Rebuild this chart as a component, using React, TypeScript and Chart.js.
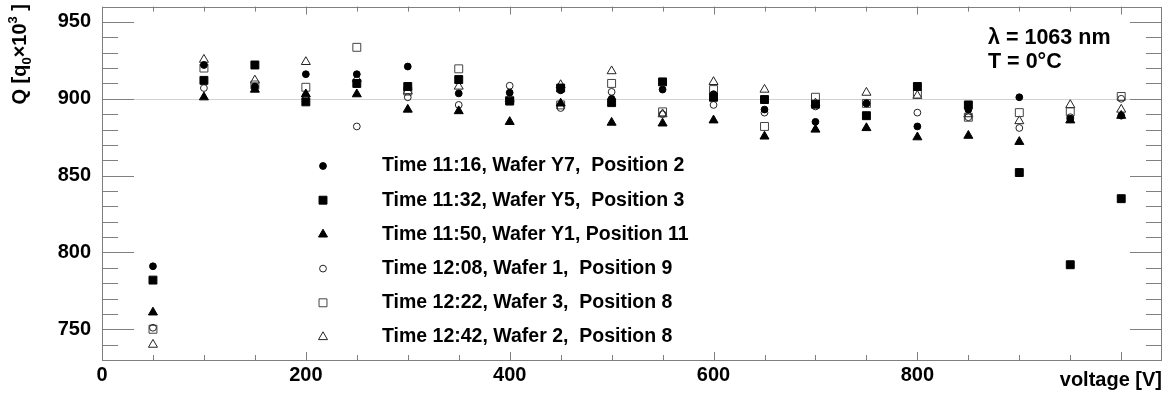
import { useEffect, useRef } from 'react';
import { Chart, registerables } from 'chart.js';

Chart.register(...registerables);

// Bias voltage steps [V]
const voltages = [50, 100, 150, 200, 250, 300, 350, 400, 450, 500, 550, 600, 650, 700, 750, 800, 850, 900, 950, 1000];

// Collected charge Q [q0 x 10^3] per measurement run
const q1116 = [791, 922, 908, 916, 916, 921, 903.5, 904, 905.5, 900, 906, 903, 893, 885, 897, 882, 893, 901, 887, 889];
const q1132 = [782, 912, 922, 898, 910, 908, 912.5, 898.5, 907, 897.5, 911, 901, 899.5, 896.5, 889, 908, 896, 852, 792, 835];
const q1150 = [761, 901, 906, 903, 903, 893, 892, 885, 897, 884.5, 884, 886, 875.5, 880, 881, 875, 876, 872, 886, 889];
const q1208 = [751, 907, 907, 902, 882, 901, 896, 908.5, 894, 904.5, 890, 896, 891, 895, 897, 891, 888, 881, 888, 900];
const q1222 = [750, 920, 909, 907.5, 933.5, 905, 919.5, 899, 896, 910, 891.5, 906, 882, 901, 897, 903, 888, 891, 891.5, 901.5];
const q1242 = [740, 925.5, 912, 924, 913, 905, 908, 900, 909, 918, 890, 911, 906, 897, 904, 902, 890, 885.5, 896, 893];

const seriesLabels = [
  'Time 11:16, Wafer Y7,  Position 2',
  'Time 11:32, Wafer Y5,  Position 3',
  'Time 11:50, Wafer Y1, Position 11',
  'Time 12:08, Wafer 1,  Position 9',
  'Time 12:22, Wafer 3,  Position 8',
  'Time 12:42, Wafer 2,  Position 8',
];
const seriesValues = [q1116, q1132, q1150, q1208, q1222, q1242];

const xTickValues = [0, 200, 400, 600, 800, 1000];
const yTickValues = [750, 800, 850, 900, 950];
const xRange = [0, 1040];
const yRange = [730, 960];
const referenceLevel = 900;

const infoLines = ['λ = 1063 nm', 'T = 0°C'];

type Marker = { style: 'circle' | 'rect' | 'triangle'; radius: number; filled: boolean; color: string };
const markers: Marker[] = [
  { style: 'circle', radius: 3.4, filled: true, color: '#000' },
  { style: 'rect', radius: 5.6, filled: true, color: '#000' },
  { style: 'triangle', radius: 5.2, filled: true, color: '#000' },
  { style: 'circle', radius: 3.4, filled: false, color: '#222' },
  { style: 'rect', radius: 5.6, filled: false, color: '#444' },
  { style: 'triangle', radius: 5.2, filled: false, color: '#222' },
];

const FONT = '"Liberation Sans", Arial, Helvetica, sans-serif';
const FRAME = '#7f7f7f';

function drawMarker(ctx: CanvasRenderingContext2D, m: Marker, x: number, y: number) {
  ctx.save();
  ctx.beginPath();
  const r = m.radius;
  if (m.style === 'circle') {
    ctx.arc(x, y, r, 0, Math.PI * 2);
  } else if (m.style === 'rect') {
    const h = r * Math.SQRT1_2;
    ctx.rect(x - h, y - h, 2 * h, 2 * h);
  } else {
    let a = 0;
    ctx.moveTo(x + Math.sin(a) * r, y - Math.cos(a) * r);
    a += (2 * Math.PI) / 3;
    ctx.lineTo(x + Math.sin(a) * r, y - Math.cos(a) * r);
    a += (2 * Math.PI) / 3;
    ctx.lineTo(x + Math.sin(a) * r, y - Math.cos(a) * r);
    ctx.closePath();
  }
  if (m.filled) {
    ctx.fillStyle = m.color;
    ctx.fill();
  }
  ctx.lineWidth = 1;
  ctx.strokeStyle = m.color;
  ctx.stroke();
  ctx.restore();
}

// Scales keep no extra label padding so the frame sits exactly where the layout puts it
const noScalePadding = (s: any) => {
  s.paddingTop = 0;
  s.paddingBottom = 0;
  s.paddingLeft = 0;
  s.paddingRight = 0;
};

// Frame, inward ticks on all sides, reference line, titles, legend and run conditions
const decorations = {
  id: 'decorations',
  beforeDatasetsDraw(chart: any) {
    const { ctx, chartArea } = chart;
    const xs = chart.scales.x;
    const ys = chart.scales.y;
    const { left, right, top, bottom } = chartArea;
    ctx.save();
    // reference line
    const yRef = Math.round(ys.getPixelForValue(referenceLevel)) + 0.5;
    ctx.strokeStyle = '#d2d2d2';
    ctx.lineWidth = 1;
    ctx.beginPath();
    ctx.moveTo(left, yRef);
    ctx.lineTo(right, yRef);
    ctx.stroke();

    ctx.strokeStyle = FRAME;
    ctx.beginPath();
    // y ticks: major every 50, minor every 10
    for (let v = yRange[0]; v <= yRange[1]; v += 10) {
      const len = v % 50 === 0 ? 32 : 16;
      const py = Math.round(ys.getPixelForValue(v)) + 0.5;
      ctx.moveTo(left, py);
      ctx.lineTo(left + len, py);
      ctx.moveTo(right, py);
      ctx.lineTo(right - len, py);
    }
    // x ticks: major every 200, minor every 50
    for (let v = xRange[0]; v <= xRange[1]; v += 50) {
      const len = v % 200 === 0 ? 8 : 5;
      const px = Math.round(xs.getPixelForValue(v)) + 0.5;
      ctx.moveTo(px, bottom);
      ctx.lineTo(px, bottom - len);
      ctx.moveTo(px, top);
      ctx.lineTo(px, top + len);
    }
    ctx.stroke();
    ctx.strokeRect(Math.round(left) + 0.5, Math.round(top) + 0.5, Math.round(right - left) - 1, Math.round(bottom - top));
    ctx.restore();
  },
  afterDraw(chart: any) {
    const { ctx, chartArea } = chart;
    ctx.save();
    ctx.fillStyle = '#000';

    // x axis title, right aligned to the frame
    ctx.font = `bold 20px ${FONT}`;
    ctx.textAlign = 'right';
    ctx.textBaseline = 'middle';
    ctx.fillText('voltage [V]', chartArea.right, 380);

    // y axis title, rotated and aligned to the top of the frame
    const big = `bold 20px ${FONT}`;
    const small = `bold 13px ${FONT}`;
    const parts: [string, string, number][] = [
      ['Q [q', big, 0],
      ['0', small, 5],
      ['×10', big, 0],
      ['3', small, -9],
      [' ]', big, 0],
    ];
    let total = 0;
    for (const [t, f] of parts) {
      ctx.font = f;
      total += ctx.measureText(t).width;
    }
    ctx.translate(26, 4 + total);
    ctx.rotate(-Math.PI / 2);
    ctx.textAlign = 'left';
    ctx.textBaseline = 'alphabetic';
    let cx = 0;
    for (const [t, f, dy] of parts) {
      ctx.font = f;
      ctx.fillText(t, cx, dy);
      cx += ctx.measureText(t).width;
    }
    ctx.setTransform(1, 0, 0, 1, 0, 0);

    // legend
    ctx.font = `bold 19.5px ${FONT}`;
    ctx.textAlign = 'left';
    ctx.textBaseline = 'middle';
    seriesLabels.forEach((label, i) => {
      const y = 166 + i * 34.2;
      drawMarker(ctx, markers[i], 323, y);
      ctx.fillStyle = '#000';
      ctx.fillText(label, 382, y);
    });

    // run conditions
    ctx.font = `bold 21.5px ${FONT}`;
    infoLines.forEach((line, i) => {
      ctx.fillText(line, 988, 38 + i * 24);
    });
    ctx.restore();
  },
};

export default function App() {
  const canvasRef = useRef<HTMLCanvasElement | null>(null);

  useEffect(() => {
    const canvas = canvasRef.current;
    if (!canvas) return;
    const datasets = seriesValues.map((vals, i) => {
      const m = markers[i];
      return {
        label: seriesLabels[i],
        data: voltages.map((v, j) => ({ x: v, y: vals[j] })),
        pointStyle: m.style,
        pointRadius: m.radius,
        pointHoverRadius: m.radius,
        pointBorderWidth: 1,
        pointBorderColor: m.color,
        pointBackgroundColor: m.filled ? m.color : 'rgba(0,0,0,0)',
        showLine: false,
      };
    });

    const chart = new Chart(canvas, {
      type: 'scatter',
      data: { datasets },
      options: {
        responsive: false,
        animation: false,
        events: [],
        layout: { padding: { left: 0, right: 13, top: 5, bottom: 0 } },
        plugins: {
          legend: { display: false },
          tooltip: { enabled: false },
        },
        scales: {
          x: {
            type: 'linear',
            min: xRange[0],
            max: xRange[1],
            border: { display: false },
            grid: { display: false, drawTicks: false },
            afterBuildTicks: (s: any) => {
              s.ticks = xTickValues.map((value) => ({ value }));
            },
            afterFit: (s: any) => {
              s.height = 34;
              noScalePadding(s);
            },
            ticks: {
              autoSkip: false,
              maxRotation: 0,
              padding: 3,
              color: '#000',
              font: { family: FONT, size: 20, weight: 'bold' },
              callback: (v: any) => (v === 1000 ? '' : String(v)),
            },
          },
          y: {
            type: 'linear',
            min: yRange[0],
            max: yRange[1],
            border: { display: false },
            grid: { display: false, drawTicks: false },
            afterBuildTicks: (s: any) => {
              s.ticks = yTickValues.map((value) => ({ value }));
            },
            afterFit: (s: any) => {
              s.width = 102;
              noScalePadding(s);
            },
            ticks: {
              autoSkip: false,
              padding: 11,
              color: '#000',
              font: { family: FONT, size: 20, weight: 'bold' },
              callback: (v: any) => String(v),
            },
          },
        },
      },
      plugins: [decorations],
    } as any);

    return () => chart.destroy();
  }, []);

  return (
    <div style={{ position: 'absolute', left: 0, top: 0, width: 1175, height: 394, background: '#fff' }}>
      <canvas ref={canvasRef} width={1175} height={394} />
    </div>
  );
}
